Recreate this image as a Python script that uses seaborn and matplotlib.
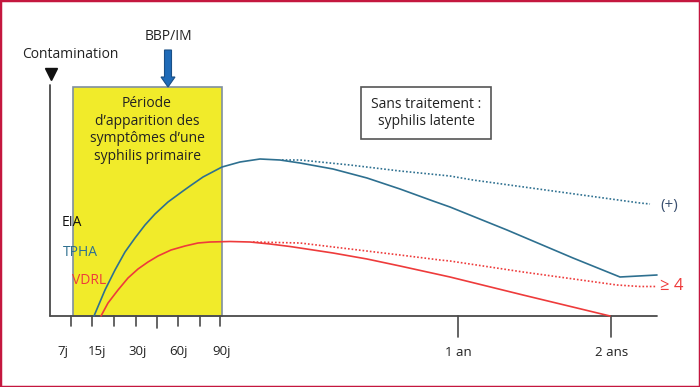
import matplotlib.pyplot as plt
from matplotlib.patches import Rectangle, FancyArrow
import seaborn as sns

# horizontal scale: schematic time position, vertical: relative titre (0 = baseline)
tpha_x = [94, 105, 115, 125, 135, 145, 155, 168, 183, 190, 203, 222, 240, 260, 280,
          300, 333, 367, 400, 433, 450, 507, 573, 620, 657]
tpha_y = [0, 26, 46, 64, 78, 91, 102, 114, 125, 130, 139, 149, 154, 157, 156,
          153, 147, 138, 127, 115, 109, 86, 58, 39, 41]
tpha_dot_x = [282, 300, 350, 400, 450, 473, 640, 650]
tpha_dot_y = [156, 156, 151, 145, 140, 136, 113, 112]

vdrl_x = [101, 108, 118, 128, 138, 148, 158, 171, 185, 198, 210, 230, 250, 270, 290,
          300, 333, 367, 400, 450, 523, 610]
vdrl_y = [0, 13, 26, 38, 47, 54, 60, 66, 70, 73, 74, 74.5, 74, 72, 69.5,
          68, 63, 57, 50, 39, 21, 0]
vdrl_dot_x = [253, 300, 350, 400, 440, 450, 523, 617, 640, 657]
vdrl_dot_y = [74, 73, 67, 61, 56, 55, 44, 31, 29.5, 29.5]

tick_x = [71, 92, 114, 136, 157, 178, 200, 220, 458, 611]
tick_len = [10, 10, 10, 10, 12, 10, 10, 10, 21, 21]
tick_labels = ["7j", "15j", "30j", "60j", "90j", "1 an", "2 ans"]
tick_label_x = [63, 97, 138, 178, 222, 458, 612]

test_names = ["EIA", "TPHA", "VDRL"]
test_x = [62, 63, 72]
test_y = [93, 64, 36]

BLUE = "#2E7090"
RED = "#EE3B3B"
YELLOW = "#F1EB2A"
GREY = "#4A4A4A"

sns.set_theme(style="white")
plt.rcParams["font.family"] = ["Open Sans", "DejaVu Sans"]

fig = plt.figure(figsize=(7, 3.87), dpi=100)
ax = fig.add_axes([0, 0, 1, 1])
ax.set_xlim(0, 700)
ax.set_ylim(-71, 316)
ax.set_xticks([])
ax.set_yticks([])
for s in ax.spines.values():
    s.set_visible(True)
    s.set_color("#C4173F")
    s.set_linewidth(2.5)

# yellow period box
ax.add_patch(Rectangle((73, 0), 149, 229, facecolor=YELLOW, edgecolor="#7F8FA0", lw=1.2, zorder=1))
ax.text(147, 186, "Période\nd\u2019apparition des\nsymptômes d\u2019une\nsyphilis primaire",
        ha="center", va="center", fontsize=10, linespacing=1.25, color="#222222", zorder=3)

# untreated box
ax.text(426, 203, "Sans traitement :\nsyphilis latente", ha="center", va="center",
        fontsize=10, linespacing=1.25, color="#222222",
        bbox=dict(boxstyle="square,pad=0.7", facecolor="white", edgecolor="#555555", lw=1.2))

# axes of the diagram
ax.plot([50, 50], [0, 231], color=GREY, lw=1.3, zorder=2)
ax.plot([50, 657], [0, 0], color=GREY, lw=1.3, zorder=2)
ax.plot([51], [242], marker="v", color="#111111", markersize=8, zorder=3)
ax.text(70, 262, "Contamination", ha="center", va="center", fontsize=10, color="#222222")

for x, l in zip(tick_x, tick_len):
    ax.plot([x, x], [0, -l], color=GREY, lw=1.2)
for x, lab in zip(tick_label_x, tick_labels):
    ax.text(x, -36, lab, ha="center", va="center", fontsize=9.5, color="#222222")

# BBP/IM arrow
ax.add_patch(FancyArrow(168, 266, 0, -37, width=7, head_width=14, head_length=10,
                        length_includes_head=True, facecolor="#1F6BB8", edgecolor="#1A4F86", lw=0.8, zorder=4))
ax.text(168, 280, "BBP/IM", ha="center", va="center", fontsize=10, color="#222222")

# curves
sns.lineplot(x=tpha_x, y=tpha_y, sort=False, color=BLUE, lw=1.2, ax=ax, zorder=5)
sns.lineplot(x=tpha_dot_x, y=tpha_dot_y, sort=False, color=BLUE, lw=1.2, ls=(0, (1, 1.2)), ax=ax, zorder=5)
sns.lineplot(x=vdrl_x, y=vdrl_y, sort=False, color=RED, lw=1.2, ax=ax, zorder=5)
sns.lineplot(x=vdrl_dot_x, y=vdrl_dot_y, sort=False, color=RED, lw=1.2, ls=(0, (1, 1.2)), ax=ax, zorder=5)

for name, x, y, c in zip(test_names, test_x, test_y, ["#111111", BLUE, RED]):
    ax.text(x, y, name, ha="left", va="center", fontsize=10, color=c, zorder=6)

ax.text(660, 111, "(+)", ha="left", va="center", fontsize=11, color="#3A5070")
ax.text(660, 30, "\u2265 4", ha="left", va="center", fontsize=12, color=RED)

fig.savefig("out.png", dpi=100)
